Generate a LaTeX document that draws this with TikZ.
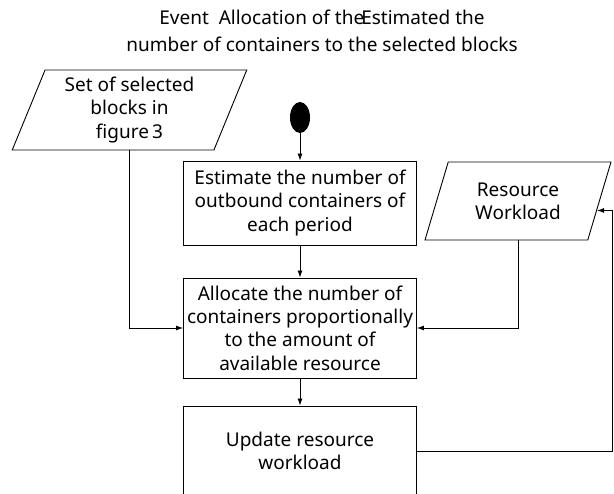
\documentclass[tikz,border=0pt]{standalone}
\usepackage{fontspec}
\setmainfont{Noto Sans}
\usetikzlibrary{shapes.geometric,arrows.meta,calc}

\begin{document}
\begin{tikzpicture}[%
      x=1pt, y=-1pt,
      line width=0.9pt,
      font=\fontsize{19}{23.3}\selectfont,
      procbox/.style={draw, align=center, minimum width=233pt, inner sep=0pt},
      iobox/.style={draw, trapezium, trapezium left angle=69, trapezium right angle=111,
        trapezium stretches=true, align=center, inner sep=0pt},
      arr/.style={-{Latex[length=7pt,width=5pt]}},
      ]
      \useasboundingbox (0,0) rectangle (614,494);

      \node[align=center, font=\fontsize{19}{27}\selectfont] (title) at (322,31)
        {Event\ \ Allocation of the\kern-3pt Estimated the\\number of containers to the selected blocks};

      \node[iobox, minimum width=235pt, minimum height=80pt] (sel) at (129.5,110)
        {Set of selected\\blocks in\\figure\,3};
      \node[iobox, minimum width=186pt, minimum height=78pt] (res) at (518,201)
        {Resource\\Workload};

      \node[ellipse, fill=black, minimum width=20pt, minimum height=31pt, inner sep=0pt] (start) at (300,117.5) {};

      \node[procbox, minimum height=84pt] (est) at (300,203)
        {Estimate the number of\\outbound containers of\\each period};
      \node[procbox, minimum height=100pt] (alloc) at (300,328)
        {Allocate the number of\\containers proportionally\\to the amount of\\available resource};
      \node[procbox, minimum height=90pt] (upd) at (300,451)
        {Update resource\\workload};

      \draw[arr] (start) -- (est);
      \draw[arr] (est) -- (alloc);
      \draw[arr] (alloc) -- (upd);
      \draw[arr] (sel.south) |- (alloc.west);
      \draw[arr] (res.south) |- (alloc.east);
      \draw[arr] (upd.east) -- ++(195.5,0) |- ($(res.top right corner)!0.62!(res.bottom right corner)$);
\end{tikzpicture}
\end{document}
